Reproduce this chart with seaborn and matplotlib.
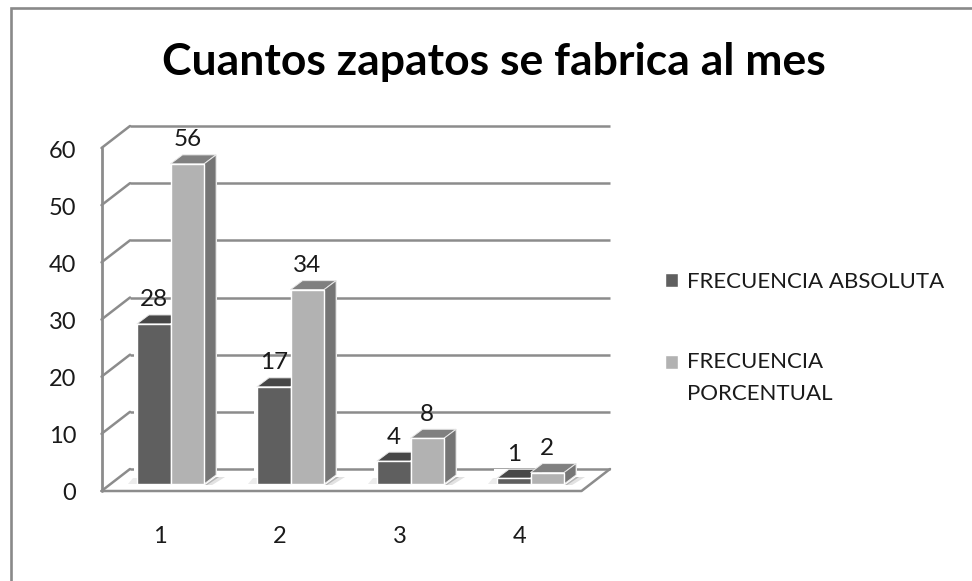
import matplotlib
matplotlib.use("Agg")
import matplotlib.pyplot as plt
import numpy as np
import pandas as pd
import seaborn as sns
from matplotlib.lines import Line2D
from matplotlib.patches import Polygon, Rectangle
from matplotlib.transforms import Affine2D

categories = ["1", "2", "3", "4"]
frecuencia_absoluta = [28, 17, 4, 1]
frecuencia_porcentual = [56, 34, 8, 2]
series_names = ["FRECUENCIA ABSOLUTA", "FRECUENCIA\nPORCENTUAL"]
y_ticks = [0, 10, 20, 30, 40, 50, 60]
title = "Cuantos zapatos se fabrica al mes"

W, H = 972, 581
sns.set_theme(style="white")
plt.rcParams["font.family"] = ["Lato", "DejaVu Sans"]
TEXT = "#1a1a1a"
GRID = "#8c8c8c"
DARK, LIGHT = "#5f5f5f", "#b2b2b2"
TOPS = {DARK: "#474747", LIGHT: "#808080"}
SIDES = {DARK: "#4f4f4f", LIGHT: "#757575"}

fig = plt.figure(figsize=(W / 100, H / 100), dpi=100, facecolor="white")
# chart border: only top and left are inside the picture
fig.add_artist(Line2D([11 / W, 11 / W, 1], [0, 1 - 7.5 / H, 1 - 7.5 / H], transform=fig.transFigure,
                      color="#898989", linewidth=1.9, solid_joinstyle="miter"))

# axes = the plane of the bars' front faces
ax = fig.add_axes([110.5 / W, 1 - 484 / H, 480 / W, 343 / H])
df = pd.DataFrame({
    "cat": categories * 2,
    "value": frecuencia_absoluta + frecuencia_porcentual,
    "serie": [series_names[0]] * 4 + [series_names[1]] * 4,
})
sns.barplot(data=df, x="cat", y="value", hue="serie", order=categories, hue_order=series_names,
            palette=[DARK, LIGHT], width=0.56, gap=0, saturation=1, ax=ax,
            edgecolor="white", linewidth=1.0, errorbar=None)
ax.set_xlim(-0.5, 3.5)
ax.set_ylim(0, 60)
ax.set_xlabel("")
ax.set_ylabel("")
ax.patch.set_visible(False)
for s in ax.spines.values():
    s.set_visible(False)

front = ax.transData + Affine2D().translate(-9, -7)
back = ax.transData + Affine2D().translate(19.5, 15)
pix = ax.transData.transform

# walls and floor, built from the axis scale
for v in y_ticks:
    ax.plot([-0.5, 3.5], [v, v], transform=back, color=GRID, lw=1.8, clip_on=False, zorder=1,
            solid_capstyle="butt")
    p0, p1 = front.transform((-0.5, v)), back.transform((-0.5, v))
    ax.plot([p0[0], p1[0]], [p0[1], p1[1]], transform=None, color=GRID, lw=1.8, clip_on=False, zorder=1)
f0, f1 = front.transform((-0.5, 0)), front.transform((-0.5, 60))
ax.plot([f0[0], f1[0]], [f0[1], f1[1]], transform=None, color=GRID, lw=2.0, clip_on=False, zorder=1)
r0, r1 = front.transform((3.5, 0)), back.transform((3.5, 0))
ax.plot([f0[0], r0[0], r1[0]], [f0[1], r0[1], r1[1]], transform=None, color=GRID, lw=1.8,
        clip_on=False, zorder=1)

# extrude each bar
DX, DY = 12, 9
bars = [p for p in ax.patches if p.get_height() > 0]
bars.sort(key=lambda p: p.get_x())
for i, b in enumerate(bars):
    col = DARK if matplotlib.colors.to_hex(b.get_facecolor()) == DARK else LIGHT
    (x0, y0), (x1, y1) = pix((b.get_x(), 0)), pix((b.get_x() + b.get_width(), b.get_height()))
    z = 3 + i * 0.1
    kw = dict(transform=None, clip_on=False)
    if col == LIGHT:
        ax.add_patch(Rectangle((x1, y0), DX + 1, y1 - y0 + DY, facecolor="white", edgecolor="none",
                               zorder=1.5, **kw))
        ax.add_patch(Polygon([(x1 + 1, y0 - 1), (x1 + 8, y0 - 1), (x1 + DX + 9, y0 + 7), (x1 + DX, y0 + 7)],
                             facecolor="#e2e2e2", edgecolor="none", zorder=2, **kw))
        ax.add_patch(Polygon([(x1 + 1, y0 - 1), (x1 + 3, y0 - 1), (x1 + DX + 3, y0 + 7), (x1 + DX, y0 + 7)],
                             facecolor="#b5b5b5", edgecolor="none", zorder=2.1, **kw))
    else:
        ax.add_patch(Rectangle((x0 - 3, y0), x1 - x0 + 3, y1 - y0 + DY, facecolor="white", edgecolor="none",
                               zorder=1.5, **kw))
        ax.add_patch(Polygon([(x0 - 9, y0), (x0, y0), (x0, y0 + 6), (x0 - 4, y0 + 6)],
                             facecolor="#ececec", edgecolor="none", zorder=2, **kw))
    ax.add_patch(Polygon([(x0, y1), (x1, y1), (x1 + DX, y1 + DY), (x0 + DX, y1 + DY)],
                         facecolor=TOPS[col], edgecolor="#e8e8e8", lw=0.7, zorder=z, **kw))
    ax.add_patch(Polygon([(x1, y0), (x1 + DX, y0 + DY), (x1 + DX, y1 + DY), (x1, y1)],
                         facecolor=SIDES[col], edgecolor="#e8e8e8", lw=0.7, zorder=z, **kw))
    b.set_zorder(z + 0.05)
    ax.annotate(f"{b.get_height():.0f}", (b.get_x() + b.get_width() / 2, b.get_height()),
                xytext=(0, 24 * 0.72), textcoords="offset points", ha="center", va="center",
                fontsize=17.5, color=TEXT, zorder=10, annotation_clip=False)

# tick labels
ax.set_yticks(y_ticks)
ax.set_xticks(range(len(categories)), categories)
ax.tick_params(length=0, labelsize=17, labelcolor=TEXT)
for lab in ax.get_yticklabels():
    lab.set_transform(lab.get_transform() + Affine2D().translate(-29.5, -8))
for lab in ax.get_xticklabels():
    lab.set_transform(lab.get_transform() + Affine2D().translate(-11, -37))

# legend
leg = ax.get_legend()
handles = leg.legend_handles
leg.remove()
leg = ax.legend(handles, series_names, loc="upper left", bbox_to_anchor=(665 / W, 1 - 272 / H),
                bbox_transform=fig.transFigure, frameon=False, fontsize=16, labelcolor=TEXT,
                handlelength=0.585, handleheight=0.585, handletextpad=0.42, labelspacing=2.72,
                borderpad=0, borderaxespad=0)
for t in leg.get_texts():
    t.set_linespacing(1.72)
leg.legend_handles[1].set_y(leg.legend_handles[1].get_y() + 16 * 0.72)

fig.text(494 / W, 1 - 62 / H, title, ha="center", va="center", fontsize=32, fontweight="bold", color="black")
fig.savefig("out.png", dpi=100, facecolor="white")
